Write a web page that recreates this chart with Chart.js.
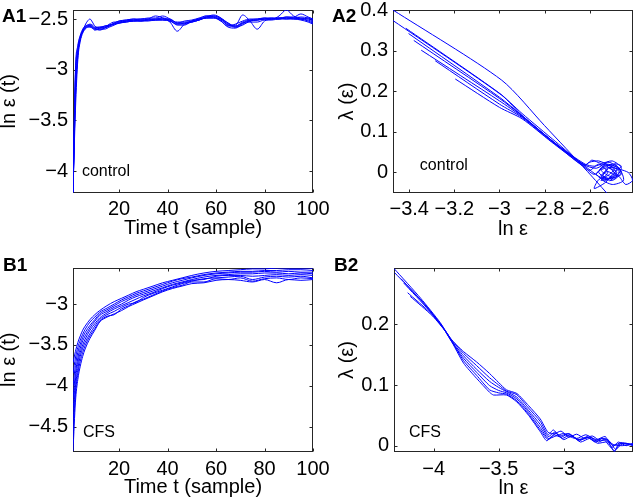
<!DOCTYPE html>
<html><head><meta charset="utf-8">
<script src="https://cdn.jsdelivr.net/npm/chart.js@4/dist/chart.umd.min.js"></script>
<style>
html,body{margin:0;padding:0;background:#fff;}
body{width:634px;height:501px;position:relative;overflow:hidden;}
canvas{position:absolute;left:0;top:0;}
</style></head><body>
<canvas id="a1" width="634" height="501" style="width:634px;height:501px"></canvas>
<canvas id="a2" width="634" height="501" style="width:634px;height:501px"></canvas>
<canvas id="b1" width="634" height="501" style="width:634px;height:501px"></canvas>
<canvas id="b2" width="634" height="501" style="width:634px;height:501px"></canvas>
<script>
// ---------- A1: ln eps(t) vs time, control ----------
const A1_T = [1,2,3,4,5,6,7,8,9,10,12,14,16,18,20,23,26,29,32,35,38,41,44,47,50,53,56,59,62,65,68,71,74,77,80,83,86,89,92,95,98,100];
const A1_C1 = [-4.21,-3.30,-2.86,-2.70,-2.62,-2.56,-2.52,-2.50,-2.53,-2.57,-2.59,-2.58,-2.57,-2.55,-2.53,-2.52,-2.52,-2.51,-2.51,-2.50,-2.50,-2.51,-2.53,-2.53,-2.52,-2.50,-2.48,-2.47,-2.50,-2.55,-2.57,-2.53,-2.51,-2.51,-2.50,-2.50,-2.47,-2.41,-2.47,-2.49,-2.50,-2.52];
const A1_C2 = [-4.21,-3.10,-2.80,-2.68,-2.61,-2.58,-2.56,-2.56,-2.58,-2.60,-2.60,-2.59,-2.57,-2.54,-2.52,-2.51,-2.50,-2.51,-2.50,-2.47,-2.49,-2.53,-2.62,-2.55,-2.52,-2.50,-2.49,-2.48,-2.51,-2.56,-2.58,-2.54,-2.52,-2.51,-2.50,-2.49,-2.49,-2.48,-2.49,-2.50,-2.51,-2.53];
const A1_C3 = [-4.21,-3.20,-2.83,-2.69,-2.63,-2.59,-2.57,-2.56,-2.57,-2.59,-2.61,-2.59,-2.56,-2.55,-2.54,-2.52,-2.51,-2.52,-2.51,-2.51,-2.50,-2.50,-2.54,-2.54,-2.53,-2.51,-2.48,-2.46,-2.49,-2.56,-2.56,-2.46,-2.52,-2.60,-2.52,-2.50,-2.49,-2.50,-2.49,-2.48,-2.49,-2.51];
const A1_C4 = [-4.21,-3.00,-2.76,-2.66,-2.60,-2.57,-2.56,-2.55,-2.56,-2.58,-2.58,-2.57,-2.56,-2.54,-2.52,-2.51,-2.50,-2.50,-2.49,-2.49,-2.47,-2.50,-2.54,-2.52,-2.51,-2.49,-2.47,-2.48,-2.52,-2.57,-2.55,-2.52,-2.50,-2.50,-2.49,-2.49,-2.50,-2.48,-2.48,-2.45,-2.48,-2.50];
const A1_C5 = [-4.21,-3.40,-2.90,-2.72,-2.64,-2.60,-2.58,-2.57,-2.59,-2.61,-2.60,-2.60,-2.58,-2.56,-2.54,-2.53,-2.52,-2.52,-2.52,-2.51,-2.51,-2.52,-2.55,-2.54,-2.53,-2.51,-2.49,-2.49,-2.52,-2.58,-2.59,-2.55,-2.53,-2.53,-2.51,-2.51,-2.50,-2.50,-2.50,-2.51,-2.53,-2.55];
const A1_C6 = [-4.21,-3.25,-2.84,-2.70,-2.62,-2.58,-2.57,-2.57,-2.58,-2.59,-2.58,-2.58,-2.55,-2.53,-2.53,-2.52,-2.51,-2.50,-2.50,-2.50,-2.49,-2.51,-2.56,-2.56,-2.52,-2.50,-2.47,-2.47,-2.49,-2.54,-2.57,-2.54,-2.51,-2.50,-2.49,-2.50,-2.49,-2.49,-2.50,-2.50,-2.49,-2.50];
const A1_C7 = [-4.21,-3.05,-2.78,-2.67,-2.62,-2.59,-2.58,-2.58,-2.59,-2.60,-2.59,-2.57,-2.56,-2.55,-2.54,-2.53,-2.52,-2.52,-2.51,-2.51,-2.51,-2.52,-2.55,-2.55,-2.53,-2.51,-2.49,-2.49,-2.50,-2.54,-2.58,-2.56,-2.52,-2.51,-2.50,-2.50,-2.50,-2.49,-2.49,-2.50,-2.52,-2.54];
const A1_XTICKS = [20,40,60,80,100];
const A1_YTICKS = [-4,-3.5,-3,-2.5];

// ---------- A2: lambda(eps) vs ln eps, control ----------
const A2_C1 = [[-3.472,0.400],[-2.99,0.227],[-2.80,0.115],[-2.61,0.002],[-2.51,-0.060]];
const A2_C2 = [[-3.472,0.374],[-2.99,0.190],[-2.90,0.140],[-2.75,0.070],[-2.62,0.020],[-2.58,0.015],[-2.54,0.020],[-2.50,0.005],[-2.48,-0.010],[-2.52,-0.015],[-2.56,0.000],[-2.53,0.020],[-2.47,0.010],[-2.45,-0.020],[-2.50,-0.030],[-2.55,-0.015],[-2.52,0.008]];
const A2_C3 = [[-3.415,0.355],[-3.00,0.195],[-2.90,0.145],[-2.75,0.075],[-2.63,0.020],[-2.57,0.010],[-2.52,0.025],[-2.48,0.015],[-2.46,-0.005],[-2.50,-0.012],[-2.55,0.005],[-2.51,0.012],[-2.43,0.000],[-2.41,-0.020],[-2.44,-0.030],[-2.47,-0.010],[-2.50,0.004]];
const A2_C4 = [[-3.403,0.342],[-3.00,0.185],[-2.90,0.140],[-2.75,0.070],[-2.64,0.022],[-2.58,-0.005],[-2.53,0.018],[-2.49,0.008],[-2.52,-0.008],[-2.56,-0.018],[-2.58,-0.040],[-2.53,-0.025],[-2.50,-0.005],[-2.46,0.015],[-2.49,0.022]];
const A2_C5 = [[-3.380,0.325],[-3.00,0.182],[-2.90,0.139],[-2.76,0.074],[-2.63,0.016],[-2.60,0.025],[-2.56,0.028],[-2.51,0.016],[-2.47,0.004],[-2.49,-0.016],[-2.54,-0.010],[-2.52,0.010],[-2.48,0.000],[-2.51,-0.022]];
const A2_C6 = [[-3.347,0.301],[-3.00,0.176],[-2.90,0.137],[-2.76,0.075],[-2.62,0.015],[-2.56,-0.010],[-2.50,-0.020],[-2.46,0.000],[-2.49,0.020],[-2.54,0.012],[-2.57,-0.005],[-2.53,-0.020],[-2.49,-0.008]];
const A2_C7 = [[-3.285,0.275],[-3.00,0.168],[-2.90,0.135],[-2.76,0.072],[-2.62,0.018],[-2.59,0.030],[-2.55,0.022],[-2.50,0.028],[-2.46,0.012],[-2.48,-0.008],[-2.52,0.002],[-2.55,-0.008],[-2.52,-0.018]];
const A2_C8 = [[-3.196,0.230],[-3.00,0.160],[-2.90,0.132],[-2.77,0.075],[-2.64,0.020],[-2.60,0.005],[-2.56,0.020],[-2.52,0.000],[-2.55,-0.020],[-2.50,-0.010],[-2.48,0.012],[-2.51,0.018]];
const A2_XTICKS = [-3.4,-3.2,-3,-2.8,-2.6];
const A2_YTICKS = [0,0.1,0.2,0.3,0.4];

// ---------- B1: ln eps(t) vs time, CFS ----------
const B1_T = [1,2,3,4,5,6,8,10,12,15,18,21,24,27,30,34,38,42,46,50,55,60,65,70,75,80,85,90,95,100];
const B1_C1 = [-3.72,-3.58,-3.47,-3.39,-3.32,-3.27,-3.19,-3.13,-3.08,-3.02,-2.97,-2.93,-2.89,-2.85,-2.82,-2.78,-2.74,-2.71,-2.68,-2.65,-2.62,-2.60,-2.59,-2.58,-2.57,-2.57,-2.56,-2.56,-2.56,-2.56];
const B1_C2 = [-3.85,-3.66,-3.53,-3.44,-3.37,-3.31,-3.22,-3.16,-3.10,-3.05,-3.00,-2.95,-2.91,-2.87,-2.84,-2.80,-2.76,-2.72,-2.69,-2.67,-2.64,-2.62,-2.61,-2.60,-2.60,-2.59,-2.59,-2.58,-2.58,-2.59];
const B1_C3 = [-4.00,-3.75,-3.59,-3.49,-3.41,-3.35,-3.26,-3.19,-3.12,-3.07,-3.02,-2.97,-2.93,-2.89,-2.86,-2.82,-2.78,-2.74,-2.71,-2.68,-2.65,-2.63,-2.62,-2.61,-2.61,-2.60,-2.61,-2.60,-2.61,-2.61];
const B1_C4 = [-4.15,-3.85,-3.66,-3.54,-3.45,-3.39,-3.29,-3.21,-3.14,-3.09,-3.04,-3.00,-2.95,-2.91,-2.88,-2.84,-2.80,-2.76,-2.73,-2.70,-2.67,-2.65,-2.64,-2.63,-2.63,-2.62,-2.62,-2.63,-2.62,-2.63];
const B1_C5 = [-4.30,-3.93,-3.72,-3.59,-3.50,-3.43,-3.32,-3.24,-3.17,-3.11,-3.06,-3.02,-2.98,-2.94,-2.90,-2.86,-2.81,-2.77,-2.74,-2.71,-2.70,-2.66,-2.65,-2.65,-2.66,-2.65,-2.64,-2.65,-2.64,-2.65];
const B1_C6 = [-4.45,-4.02,-3.79,-3.64,-3.54,-3.47,-3.36,-3.27,-3.19,-3.13,-3.09,-3.04,-3.00,-2.98,-2.92,-2.87,-2.83,-2.79,-2.75,-2.72,-2.69,-2.68,-2.67,-2.66,-2.70,-2.67,-2.66,-2.67,-2.66,-2.68];
const B1_C7 = [-4.62,-4.10,-3.85,-3.70,-3.59,-3.51,-3.39,-3.30,-3.21,-3.15,-3.13,-3.06,-3.02,-2.97,-2.94,-2.89,-2.84,-2.80,-2.77,-2.73,-2.73,-2.69,-2.70,-2.68,-2.72,-2.69,-2.68,-2.70,-2.68,-2.69];
const B1_C8 = [-4.80,-4.20,-3.92,-3.76,-3.64,-3.55,-3.42,-3.32,-3.22,-3.16,-3.12,-3.08,-3.03,-2.99,-2.95,-2.90,-2.85,-2.81,-2.78,-2.75,-2.74,-2.71,-2.70,-2.71,-2.73,-2.70,-2.74,-2.70,-2.71,-2.70];
const B1_XTICKS = [20,40,60,80,100];
const B1_YTICKS = [-4.5,-4,-3.5,-3];

// ---------- B2: lambda(eps) vs ln eps, CFS ----------
const B2_C1 = [[-4.305,0.292],[-4.10,0.243],[-3.95,0.203],[-3.87,0.176],[-3.77,0.155],[-3.67,0.138],[-3.57,0.119],[-3.50,0.104],[-3.44,0.092],[-3.36,0.086],[-3.27,0.066],[-3.18,0.044],[-3.12,0.022],[-3.07,0.020],[-3.02,0.024],[-2.96,0.014],[-2.90,0.019],[-2.84,0.012],[-2.78,0.016],[-2.72,0.008],[-2.66,0.010],[-2.62,0.000],[-2.56,0.005],[-2.50,0.003],[-2.467,0.002]];
const B2_C2 = [[-4.300,0.285],[-4.08,0.236],[-3.94,0.199],[-3.87,0.177],[-3.77,0.152],[-3.67,0.132],[-3.57,0.112],[-3.50,0.100],[-3.44,0.090],[-3.36,0.084],[-3.27,0.062],[-3.18,0.040],[-3.12,0.018],[-3.08,0.026],[-3.03,0.016],[-2.97,0.020],[-2.90,0.012],[-2.83,0.018],[-2.75,0.010],[-2.68,0.015],[-2.63,-0.003],[-2.58,0.006],[-2.52,0.000],[-2.467,0.004]];
const B2_C3 = [[-4.250,0.275],[-4.05,0.228],[-3.93,0.195],[-3.87,0.175],[-3.77,0.148],[-3.67,0.126],[-3.57,0.106],[-3.50,0.096],[-3.44,0.089],[-3.36,0.080],[-3.27,0.058],[-3.18,0.035],[-3.12,0.015],[-3.07,0.022],[-3.01,0.012],[-2.95,0.018],[-2.88,0.008],[-2.82,0.015],[-2.76,0.006],[-2.70,0.012],[-2.65,0.000],[-2.61,-0.008],[-2.56,0.004],[-2.50,0.002],[-2.467,0.000]];
const B2_C4 = [[-4.230,0.268],[-4.04,0.224],[-3.92,0.192],[-3.87,0.174],[-3.77,0.144],[-3.67,0.121],[-3.57,0.099],[-3.50,0.091],[-3.44,0.087],[-3.36,0.077],[-3.27,0.055],[-3.18,0.030],[-3.12,0.012],[-3.06,0.016],[-3.00,0.020],[-2.93,0.013],[-2.86,0.010],[-2.80,0.014],[-2.73,0.006],[-2.68,0.012],[-2.62,0.002],[-2.55,0.000],[-2.467,0.003]];
const B2_C5 = [[-4.200,0.252],[-4.02,0.218],[-3.91,0.189],[-3.87,0.176],[-3.77,0.140],[-3.67,0.116],[-3.57,0.092],[-3.50,0.087],[-3.44,0.085],[-3.36,0.074],[-3.27,0.052],[-3.18,0.026],[-3.12,0.010],[-3.06,0.020],[-3.00,0.010],[-2.94,0.016],[-2.87,0.006],[-2.80,0.012],[-2.74,0.004],[-2.66,0.006],[-2.61,-0.010],[-2.58,0.002],[-2.52,0.004],[-2.467,0.001]];
const B2_C6 = [[-4.180,0.246],[-4.01,0.214],[-3.90,0.186],[-3.87,0.175],[-3.77,0.136],[-3.67,0.111],[-3.57,0.088],[-3.54,0.0835],[-3.44,0.0835],[-3.36,0.072],[-3.27,0.050],[-3.18,0.023],[-3.13,0.008],[-3.08,0.018],[-3.02,0.014],[-2.96,0.020],[-2.89,0.010],[-2.82,0.014],[-2.76,0.008],[-2.70,0.012],[-2.64,0.004],[-2.60,-0.006],[-2.55,0.003],[-2.467,0.002]];
const B2_XTICKS = [-4,-3.5,-3];
const B2_YTICKS = [0,0.1,0.2];

// ---------- drawing ----------
const BLUE = 'rgb(0,0,255)';
const FONT = '"Liberation Sans", Arial, Helvetica, sans-serif';
Chart.defaults.font.family = FONT;
Chart.defaults.color = '#000';

function fmt(v){ return String(v).replace('-', '\u2212'); }
function zipT(t, ys){ return ys.map((y,i)=>({x:t[i], y:y})); }

const framePlugin = {
  id:'frame',
  beforeDatasetsDraw(chart){
    const {ctx, chartArea:a, scales:{x, y}} = chart;
    const L = Math.round(a.left)+0.5, R = Math.round(a.right)-0.5, T = Math.round(a.top)+0.5, B = Math.round(a.bottom)-0.5;
    ctx.save();
    ctx.strokeStyle = '#262626'; ctx.lineWidth = 1;
    ctx.strokeRect(L, T, R-L, B-T);
    const tl = 3;
    ctx.beginPath();
    x.ticks.forEach(t=>{ const p = Math.round(x.getPixelForValue(t.value))+0.5; ctx.moveTo(p,B); ctx.lineTo(p,B-tl); ctx.moveTo(p,T); ctx.lineTo(p,T+tl); });
    y.ticks.forEach(t=>{ const p = Math.round(y.getPixelForValue(t.value))+0.5; ctx.moveTo(L,p); ctx.lineTo(L+tl,p); ctx.moveTo(R,p); ctx.lineTo(R-tl,p); });
    ctx.stroke();
    ctx.restore();
  },
  afterDraw(chart){
    const o = chart.options.plugins.frame;
    const {ctx, scales:{x, y}} = chart;
    ctx.save();
    ctx.fillStyle = '#000';
    ctx.textAlign = 'left';
    ctx.font = 'bold 19px ' + FONT;
    ctx.textBaseline = 'alphabetic';
    ctx.fillText(o.label, chart.chartArea.left + o.labelDx, chart.chartArea.top + o.labelDy);
    ctx.font = '16px ' + FONT;
    ctx.textBaseline = 'middle';
    ctx.fillText(o.note, x.getPixelForValue(o.noteX), y.getPixelForValue(o.noteY));
    ctx.restore();
  }
};

function makeChart(id, p){
  const area = p.area;
  return new Chart(document.getElementById(id), {
    type:'line',
    data:{datasets: p.series.map(d=>({data:d, borderColor:BLUE, borderWidth:1, pointRadius:0, fill:false,
      tension:p.tension, cubicInterpolationMode:p.monotone ? 'monotone' : 'default'}))},
    options:{
      responsive:false, animation:false, events:[],
      layout:{padding:{left:area.l - p.wY, top:area.t, right:634 - area.r, bottom:501 - area.b - p.hX}},
      plugins:{legend:{display:false}, tooltip:{enabled:false},
        frame:{label:p.label, labelDx:p.labelDx, labelDy:p.labelDy, note:p.note, noteX:p.noteX, noteY:p.noteY}},
      scales:{
        x:{type:'linear', min:p.xr[0], max:p.xr[1],
          grid:{display:false, drawTicks:false}, border:{display:false},
          afterBuildTicks:s=>{ s.ticks = p.xt.map(v=>({value:v})); },
          afterFit:s=>{ s.height = p.hX; s.paddingLeft = 0; s.paddingRight = 0; },
          ticks:{autoSkip:false, maxRotation:0, minRotation:0, padding:p.xPad, color:'#000', font:{size:20}, callback:v=>fmt(v)},
          title:{display:true, text:p.xTitle, color:'#000', font:{size:20}, padding:{top:0, bottom:0}}},
        y:{type:'linear', min:p.yr[0], max:p.yr[1],
          grid:{display:false, drawTicks:false}, border:{display:false},
          afterBuildTicks:s=>{ s.ticks = p.yt.map(v=>({value:v})); },
          afterFit:s=>{ s.width = p.wY; s.paddingTop = 0; s.paddingBottom = 0; },
          ticks:{autoSkip:false, padding:5, color:'#000', font:{size:20}, callback:v=>fmt(v)},
          title:{display:true, text:p.yTitle, color:'#000', font:{size:20}, padding:{top:p.yTitlePad, bottom:0}}}
      }
    },
    plugins:[framePlugin]
  });
}

makeChart('a1', {
  series:[A1_C1,A1_C2,A1_C3,A1_C4,A1_C5,A1_C6,A1_C7].map(c=>zipT(A1_T,c)),
  tension:0.4, monotone:true,
  area:{l:73, t:10, r:313, b:192.5}, wY:73, hX:48, xPad:4.5, yTitlePad:-2.5,
  xr:[1,100], yr:[-4.212,-2.411], xt:A1_XTICKS, yt:A1_YTICKS,
  xTitle:'Time t (sample)', yTitle:'ln \u03b5 (t)',
  label:'A1', labelDx:-71, labelDy:12, note:'control', noteX:4.7, noteY:-4.01
});
makeChart('a2', {
  series:[A2_C1,A2_C2,A2_C3,A2_C4,A2_C5,A2_C6,A2_C7,A2_C8],
  tension:0.25, monotone:false,
  area:{l:393, t:10, r:633, b:193}, wY:55, hX:48, xPad:4.5, yTitlePad:-2.5,
  xr:[-3.472,-2.408], yr:[-0.051,0.40], xt:A2_XTICKS, yt:A2_YTICKS,
  xTitle:'ln \u03b5', yTitle:'\u03bb (\u03b5)',
  label:'A2', labelDx:-61, labelDy:12, note:'control', noteX:-3.353, noteY:0.0155
});
makeChart('b1', {
  series:[B1_C1,B1_C2,B1_C3,B1_C4,B1_C5,B1_C6,B1_C7,B1_C8].map(c=>zipT(B1_T,c)),
  tension:0.4, monotone:true,
  area:{l:73, t:268, r:313, b:451.5}, wY:73, hX:48, xPad:5.5, yTitlePad:-2.5,
  xr:[1,100], yr:[-4.804,-2.559], xt:B1_XTICKS, yt:B1_YTICKS,
  xTitle:'Time t (sample)', yTitle:'ln \u03b5 (t)',
  label:'B1', labelDx:-70, labelDy:2.7, note:'CFS', noteX:5.1, noteY:-4.577
});
makeChart('b2', {
  series:[B2_C1,B2_C2,B2_C3,B2_C4,B2_C5,B2_C6],
  tension:0.2, monotone:false,
  area:{l:394, t:268, r:633, b:452}, wY:56, hX:48, xPad:5.5, yTitlePad:-2.5,
  xr:[-4.305,-2.467], yr:[-0.0104,0.2928], xt:B2_XTICKS, yt:B2_YTICKS,
  xTitle:'ln \u03b5', yTitle:'\u03bb (\u03b5)',
  label:'B2', labelDx:-60, labelDy:2.7, note:'CFS', noteX:-4.19, noteY:0.021
});
</script>
</body></html>
